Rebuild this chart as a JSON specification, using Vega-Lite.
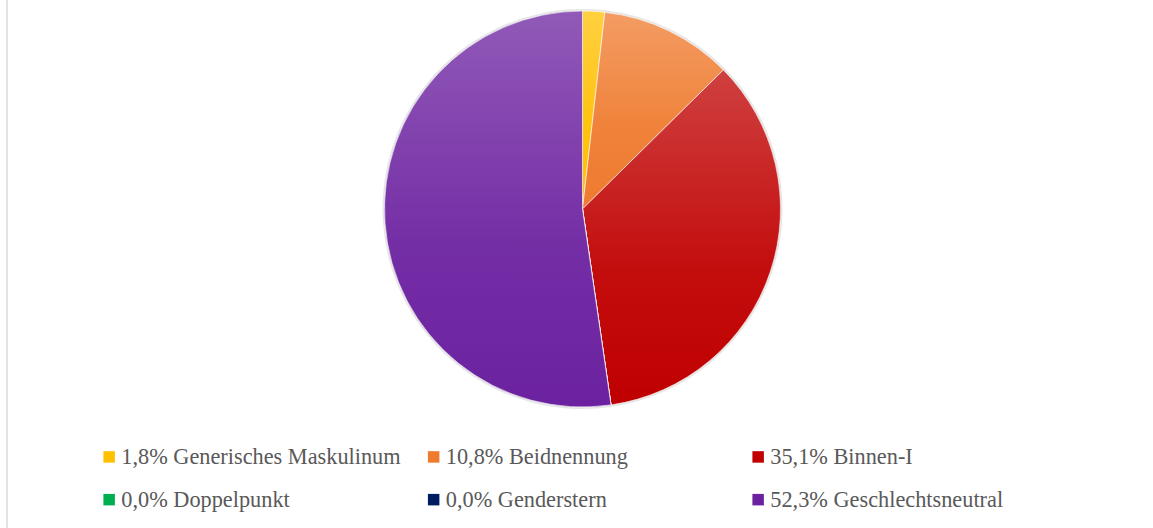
{
  "$schema": "https://vega.github.io/schema/vega-lite/v6.json",
  "autosize": {"type": "none"},
  "padding": {"left": 7, "top": -200, "right": -5, "bottom": -90},
  "width": 1151,
  "height": 818,
  "background": "#ffffff",
  "view": {"stroke": "#d9d9d9", "strokeWidth": 1.5, "fill": null},
  "config": {
    "font": "Liberation Serif"
  },
  "data": {
    "values": [
      {"idx": 1, "label": "1,8% Generisches Maskulinum", "value": 1.8},
      {"idx": 2, "label": "10,8% Beidnennung", "value": 10.8},
      {"idx": 3, "label": "35,1% Binnen-I", "value": 35.1},
      {"idx": 4, "label": "0,0% Doppelpunkt", "value": 0.0},
      {"idx": 5, "label": "0,0% Genderstern", "value": 0.0},
      {"idx": 6, "label": "52,3% Geschlechtsneutral", "value": 52.3}
    ]
  },
  "encoding": {
    "theta": {"field": "value", "type": "quantitative", "stack": true},
    "order": {"field": "idx", "type": "quantitative"}
  },
  "layer": [
    {
      "mark": {"type": "arc", "outerRadius": 200, "fill": "#c8c8c8", "opacity": 0.45, "stroke": null}
    },
    {
      "mark": {"type": "arc", "outerRadius": 198, "stroke": "#ffffff", "strokeWidth": 0.6},
      "encoding": {
        "color": {
          "field": "label",
          "type": "nominal",
          "scale": {
            "domain": ["1,8% Generisches Maskulinum", "10,8% Beidnennung", "35,1% Binnen-I", "0,0% Doppelpunkt", "0,0% Genderstern", "52,3% Geschlechtsneutral"],
            "range": ["#ffc000", "#ef7b2f", "#c00000", "#00b050", "#001c60", "#6c22a0"]
          },
          "legend": {
            "title": null,
            "orient": "none",
            "legendX": 91,
            "legendY": 645.5,
            "columns": 3,
            "direction": "horizontal",
            "gridAlign": "all",
            "columnPadding": 21.5,
            "rowPadding": 20,
            "padding": 0,
            "symbolType": "square",
            "symbolSize": 132,
            "symbolStrokeWidth": 0,
            "labelFont": "'Liberation Serif', 'Times New Roman', serif",
            "labelFontSize": 22.3,
            "labelColor": "#595959",
            "labelOffset": 1,
            "labelLimit": 400
          }
        }
      }
    },
    {
      "mark": {
        "type": "arc",
        "outerRadius": 198,
        "fill": {"gradient": "linear", "x1": 0, "y1": 0, "x2": 0, "y2": 1, "stops": [{"offset": 0, "color": "rgba(255,255,255,0.25)"}, {"offset": 0.6, "color": "rgba(255,255,255,0.05)"}, {"offset": 1, "color": "rgba(255,255,255,0)"}]},
        "stroke": null
      }
    }
  ]
}
